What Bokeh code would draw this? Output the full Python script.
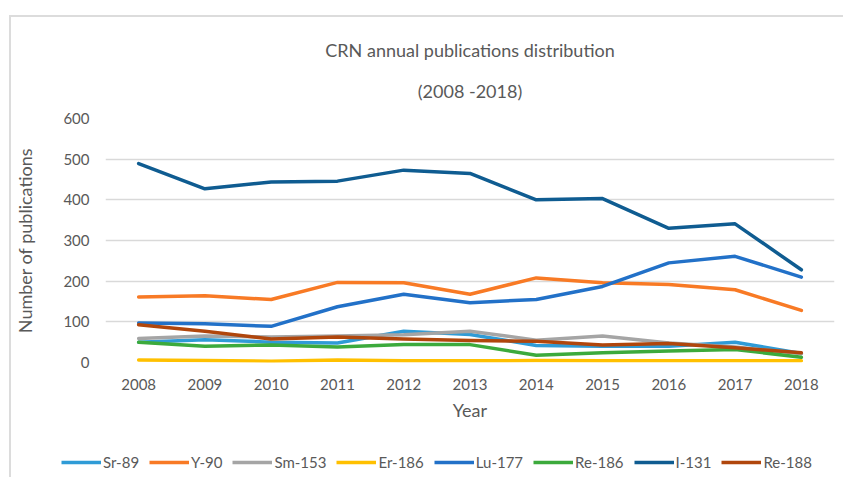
from bokeh.plotting import figure
from bokeh.layouts import column, row
from bokeh.models import Legend, LegendItem, Title, Range1d
from bokeh.embed import file_html
from bokeh.resources import INLINE

years = ["2008", "2009", "2010", "2011", "2012", "2013", "2014", "2015", "2016", "2017", "2018"]
sr89 = [50, 56, 50, 48, 77, 69, 42, 40, 40, 50, 22]
y90 = [161, 164, 155, 197, 196, 168, 208, 196, 192, 179, 128]
sm153 = [59, 65, 63, 65, 68, 77, 55, 65, 48, 38, 22]
er186 = [6, 5, 3, 6, 4, 4, 5, 4, 4, 4, 4]
lu177 = [97, 95, 89, 137, 168, 147, 155, 187, 245, 261, 210]
re186 = [50, 40, 43, 38, 44, 44, 18, 24, 28, 32, 13]
i131 = [489, 427, 444, 446, 473, 465, 400, 403, 330, 341, 228]
re188 = [93, 77, 58, 63, 58, 54, 52, 43, 47, 36, 24]

series = [
    ("Sr-89", sr89, "#2f9bd6"),
    ("Y-90", y90, "#f87a25"),
    ("Sm-153", sm153, "#a5a5a5"),
    ("Er-186", er186, "#ffc000"),
    ("Lu-177", lu177, "#2271c8"),
    ("Re-186", re186, "#3caa3c"),
    ("I-131", i131, "#0f5c91"),
    ("Re-188", re188, "#b0460c"),
]

FONT = "Lato"
GRAY = "#595959"

p = figure(x_range=years, y_range=(0, 600), frame_width=729, frame_height=244,
           output_backend="svg", toolbar_location=None,
           min_border_left=94, min_border_right=8, min_border_top=101, min_border_bottom=70)

p.title = Title(text="CRN annual publications distribution", align="center", text_font=FONT,
                text_font_size="18px", text_color=GRAY, text_font_style="normal", standoff=0)
p.add_layout(Title(text="(2008 -2018)", align="center", text_font=FONT, text_font_size="18px",
                   text_color=GRAY, text_font_style="normal", standoff=34), "above")

p.outline_line_color = None
p.xgrid.grid_line_color = None
p.ygrid.grid_line_color = "#d9d9d9"
p.ygrid.grid_line_width = 1.5
p.yaxis.ticker = [0, 100, 200, 300, 400, 500, 600]
for ax in (p.xaxis, p.yaxis):
    ax.axis_line_color = None
    ax.major_tick_line_color = None
    ax.minor_tick_line_color = None
    ax.major_label_text_font = FONT
    ax.major_label_text_font_size = "15px"
    ax.major_label_text_color = GRAY
    ax.axis_label_text_font = FONT
    ax.axis_label_text_font_size = "18px"
    ax.axis_label_text_color = GRAY
    ax.axis_label_text_font_style = "normal"
p.xaxis.axis_label = "Year"
p.yaxis.axis_label = "Number of publications"
p.xaxis.major_label_standoff = 10
p.yaxis.major_label_standoff = 10
p.xaxis.axis_label_standoff = 6
p.yaxis.axis_label_standoff = 24

for name, vals, color in series:
    p.line(years, vals, line_color=color, line_width=3.5, line_join="round", line_cap="round")

# legend strip: same series, drawn out of view, only their legend entries show
pl = figure(x_range=years, y_range=Range1d(-2000, -1900), width=832, height=45,
            output_backend="svg", toolbar_location=None, x_axis_type=None, y_axis_type=None,
            min_border=0)
pl.outline_line_color = None
pl.grid.visible = False
items = []
for name, vals, color in series:
    r = pl.line(years, vals, line_color=color, line_width=3.5)
    items.append(LegendItem(label=name, renderers=[r]))
legend = Legend(items=items, orientation="horizontal", location=(50, 5),
                label_text_font=FONT, label_text_font_size="15px", label_text_color=GRAY,
                glyph_width=40, label_standoff=2, spacing=10, border_line_color=None,
                background_fill_alpha=0, padding=0, margin=0)
pl.add_layout(legend, "center")

layout = column(p, row(pl, spacing=0), spacing=0)
layout.styles = {"border-left": "2px solid #dcdcdc", "border-top": "2px solid #dcdcdc",
                 "margin-left": "9px", "margin-top": "15px"}

open("out.html", "w").write(file_html(layout, INLINE))
